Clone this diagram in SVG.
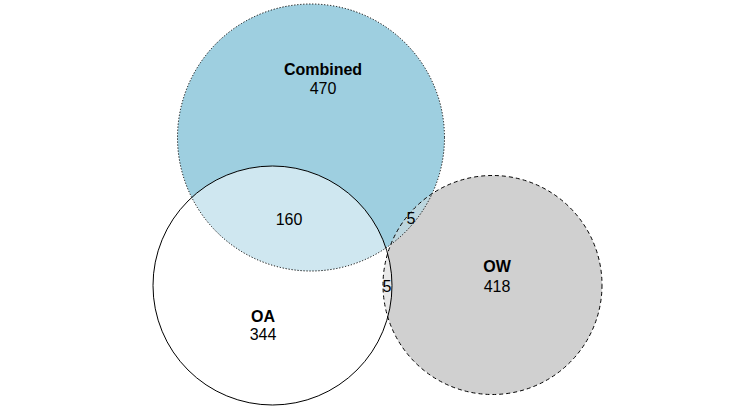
<svg xmlns="http://www.w3.org/2000/svg" width="756" height="409" viewBox="0 0 756 409">
<style>
text{font-family:"Liberation Sans",Arial,sans-serif;font-size:16px;fill:#000;text-anchor:middle}
.b{font-weight:bold}
.ol{fill:none;stroke:#000;stroke-width:1}
</style>
<defs>
<clipPath id="cc"><circle cx="311" cy="137.5" r="133.5"/></clipPath>
</defs>
<rect width="756" height="409" fill="#fff"/>
<g id="connectors"/>
<g id="fills">
<circle cx="311" cy="137.5" r="133.5" fill="#9ecfe0"/>
<circle cx="492.5" cy="285" r="109.5" fill="#d0d0d0"/>
<circle cx="492.5" cy="285" r="109.5" fill="#bcd6de" clip-path="url(#cc)"/>
<circle cx="272.5" cy="285.5" r="119.5" fill="#fff" fill-opacity="0.5"/>
</g>
<g id="Combined">
<circle class="ol" cx="311" cy="137.5" r="133.5" stroke-dasharray="1.2 1.8"/>
<text class="b" x="323" y="75">Combined</text>
<text x="323" y="94">470</text>
</g>
<g id="OA">
<circle class="ol" cx="272.5" cy="285.5" r="119.5"/>
<text class="b" x="263" y="322">OA</text>
<text x="263" y="340">344</text>
</g>
<g id="OW">
<circle class="ol" cx="492.5" cy="285" r="109.5" stroke-dasharray="4 3"/>
<text class="b" x="497" y="272">OW</text>
<text x="497" y="292">418</text>
</g>
<g id="intersections">
<text x="289" y="225">160</text>
<text x="411" y="224">5</text>
<text x="387" y="292">5</text>
</g>
</svg>
